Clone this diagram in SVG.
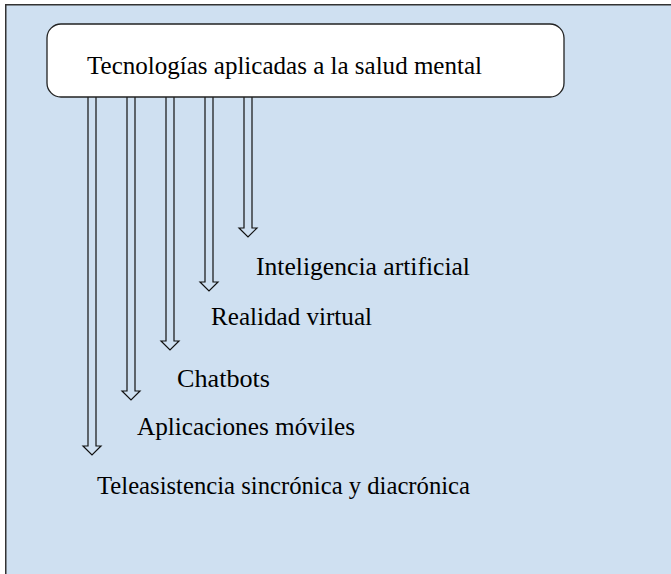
<svg xmlns="http://www.w3.org/2000/svg" width="671" height="574" viewBox="0 0 671 574">
<style>
.bg{fill:#cfe0f1;stroke:#333;stroke-width:1.5}
.box{fill:#ffffff;stroke:#222;stroke-width:1.3}
.arr{fill:#cfe0f1;stroke:#111;stroke-width:1.2;stroke-linejoin:miter}
.t{font-family:"Liberation Serif","Times New Roman",serif;font-size:26px;fill:#000}
</style>
<rect x="0" y="0" width="671" height="574" fill="#ffffff"/>
<path class="bg" d="M5.75,575 V4.75 H672 V575 Z"/>
<g id="connectors">
<path class="arr" d="M88,97 V446 H83 L92,455 L101,446 H96 V97"/>
<path class="arr" d="M127,97 V391 H122 L131,400 L140,391 H135 V97"/>
<path class="arr" d="M166,97 V341 H161 L170,350 L179,341 H174 V97"/>
<path class="arr" d="M205,97 V282 H200 L209,291 L218,282 H213 V97"/>
<path class="arr" d="M244,97 V228 H239 L248,237 L257,228 H252 V97"/>
</g>
<g id="root">
<rect class="box" x="47" y="24" width="517" height="73" rx="14" ry="14"/>
<text class="t" x="87" y="74" textLength="395" lengthAdjust="spacingAndGlyphs">Tecnologías aplicadas a la salud mental</text>
</g>
<g id="n-ia"><text class="t" x="256" y="275" textLength="214" lengthAdjust="spacingAndGlyphs">Inteligencia artificial</text></g>
<g id="n-rv"><text class="t" x="211" y="325" textLength="161" lengthAdjust="spacingAndGlyphs">Realidad virtual</text></g>
<g id="n-cb"><text class="t" x="177" y="387" textLength="93" lengthAdjust="spacingAndGlyphs">Chatbots</text></g>
<g id="n-am"><text class="t" x="137" y="435" textLength="218" lengthAdjust="spacingAndGlyphs">Aplicaciones móviles</text></g>
<g id="n-te"><text class="t" x="97" y="494" textLength="373" lengthAdjust="spacingAndGlyphs">Teleasistencia sincrónica y diacrónica</text></g>
</svg>
